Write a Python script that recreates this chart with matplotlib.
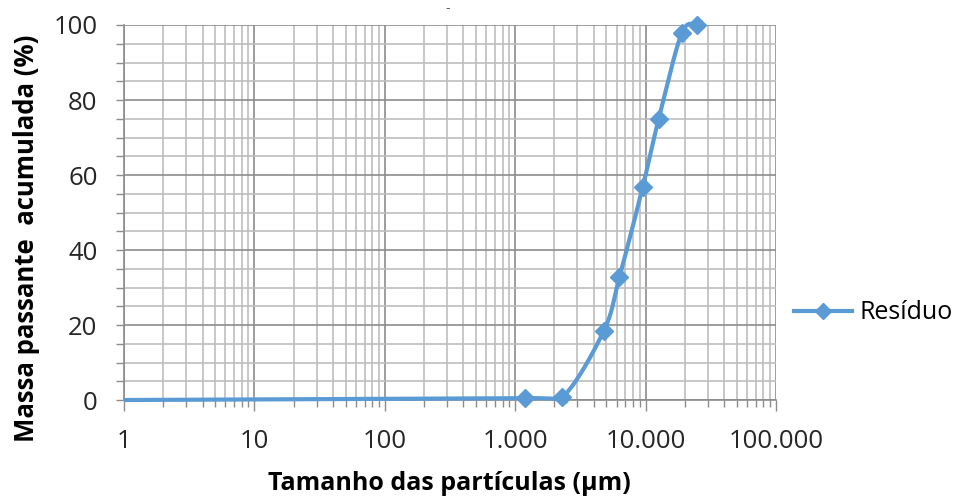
import matplotlib
matplotlib.use("Agg")
import matplotlib.pyplot as plt
import matplotlib.ticker as mticker
import numpy as np

# particle size distribution of the residue
sizes_um = [1, 1180, 2300, 4770, 6300, 9500, 12600, 18900, 24600]
passing_pct = [0.0, 0.5, 0.8, 18.4, 32.8, 56.8, 75.0, 97.8, 100.0]
x_tick_values = [1, 10, 100, 1000, 10000, 100000]
x_tick_labels = ["1", "10", "100", "1.000", "10.000", "100.000"]
y_tick_values = [0, 20, 40, 60, 80, 100]

LINE_BLUE = "#5B9BD5"
FONT = "Open Sans"


def smooth_curve(xs, ys, steps=40):
    # Catmull-Rom spline through the points, in log10(x) space
    lx = np.log10(np.asarray(xs, dtype=float))
    ly = np.asarray(ys, dtype=float)
    px = np.concatenate([[lx[0]], lx, [lx[-1]]])
    py = np.concatenate([[ly[0]], ly, [ly[-1]]])
    out_x, out_y = [], []
    t = np.linspace(0, 1, steps)
    for i in range(1, len(px) - 2):
        p0, p1, p2, p3 = px[i - 1], px[i], px[i + 1], px[i + 2]
        q0, q1, q2, q3 = py[i - 1], py[i], py[i + 1], py[i + 2]
        # bezier control points (tension 1/6)
        c1x, c2x = p1 + (p2 - p0) / 6, p2 - (p3 - p1) / 6
        c1y, c2y = q1 + (q2 - q0) / 6, q2 - (q3 - q1) / 6
        bx = (1 - t) ** 3 * p1 + 3 * (1 - t) ** 2 * t * c1x + 3 * (1 - t) * t ** 2 * c2x + t ** 3 * p2
        by = (1 - t) ** 3 * q1 + 3 * (1 - t) ** 2 * t * c1y + 3 * (1 - t) * t ** 2 * c2y + t ** 3 * q2
        out_x.extend(bx)
        out_y.extend(by)
    return 10 ** np.array(out_x), np.array(out_y)


fig = plt.figure(figsize=(9.62, 5.04), dpi=100)
ax = fig.add_axes([0.1289, 0.2063, 0.6778, 0.7441])

ax.set_xscale("log")
ax.set_xlim(1, 100000)
ax.set_ylim(0, 100)

curve_x, curve_y = smooth_curve(sizes_um, passing_pct)
ax.plot(curve_x, curve_y, color=LINE_BLUE, lw=3.0, solid_capstyle="butt",
        zorder=3, clip_on=False)
ax.plot(sizes_um[1:], passing_pct[1:], ls="none", marker="D", ms=9.5,
        color=LINE_BLUE, zorder=4, clip_on=False)

# ticks and grid
ax.set_xticks(x_tick_values)
ax.set_xticklabels(x_tick_labels)
ax.xaxis.set_minor_locator(mticker.LogLocator(base=10, subs=np.arange(2, 10)))
ax.xaxis.set_minor_formatter(mticker.NullFormatter())
ax.set_yticks(y_tick_values)
ax.yaxis.set_minor_locator(mticker.MultipleLocator(5))

ax.grid(which="major", color="#8c8c8c", lw=1.2)
ax.grid(which="minor", color="#bdbdbd", lw=1.2)
ax.set_axisbelow(True)

for side in ["top", "right"]:
    ax.spines[side].set_visible(False)
for side in ["left", "bottom"]:
    ax.spines[side].set_color("#8c8c8c")
    ax.spines[side].set_linewidth(1.2)

ax.tick_params(axis="both", which="both", color="#8c8c8c", width=1.0)
ax.tick_params(axis="x", which="major", length=8, pad=13)
ax.tick_params(axis="x", which="minor", length=5)
ax.tick_params(axis="y", which="both", length=6, pad=13)
for lbl in ax.get_xticklabels() + ax.get_yticklabels():
    lbl.set_fontfamily(FONT)
    lbl.set_fontsize(18.5)
    lbl.set_color("#262626")

# axis titles
fig.text(449 / 962, 1 - 484 / 504, "Tamanho das partículas (µm)", fontfamily=FONT,
         fontsize=18, fontweight="bold", ha="center", va="center")
fig.text(27 / 962, 1 - 238 / 504, "Massa passante  acumulada (%)", fontfamily=FONT,
         fontsize=18.5, fontweight="bold", ha="center", va="center", rotation=90)

# legend entry at the right of the plot
handle, = ax.plot([], [], color=LINE_BLUE, lw=3.0, marker="D", ms=8)
fig.legend([handle], ["Resíduo"], loc="center left",
           bbox_to_anchor=(0.802, 0.379), frameon=False, handlelength=2.3,
           handletextpad=0.3, prop={"family": FONT, "size": 18})

fig.text(0.465, 0.983, "-", fontsize=9, color="#555555", ha="center", va="center")

fig.savefig("out.png", dpi=100)
